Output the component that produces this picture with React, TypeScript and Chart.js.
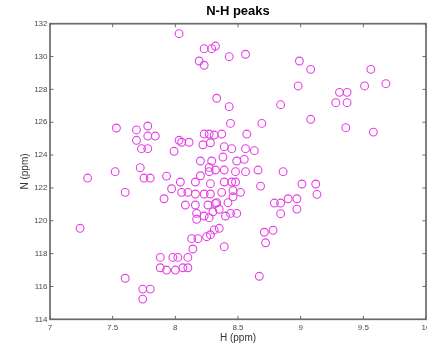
import React, { useEffect, useRef } from "react";
import { Chart, registerables } from "chart.js";

Chart.register(...registerables);

const chartTitle = "N-H peaks";
const xAxisTitle = "H (ppm)";
const yAxisTitle = "N (ppm)";

const hValues: number[] = [
  8.03, 8.23, 8.29, 8.32, 8.43, 8.56, 8.19, 8.23, 8.99, 9.08,
  8.98, 9.56, 9.51, 9.68, 9.31, 9.37, 9.28, 9.37, 8.33, 8.43,
  8.84, 9.08, 7.53, 7.69, 7.78, 7.78, 7.84, 7.69, 7.73, 7.78,
  7.52, 7.30, 7.72, 7.75, 7.80, 7.60, 7.24, 7.93, 7.99, 8.03,
  8.05, 8.11, 8.04, 7.97, 7.91, 8.05, 8.10, 8.08, 8.16, 8.17,
  8.17, 8.23, 8.27, 8.16, 8.16, 8.23, 8.28, 8.26, 8.32, 8.33,
  8.30, 8.35, 8.40, 8.44, 8.49, 8.42, 8.37, 8.46, 8.46, 8.52,
  8.48, 8.45, 8.39, 8.28, 8.20, 8.27, 8.27, 8.32, 8.39, 8.48,
  8.56, 8.66, 8.86, 8.20, 8.29, 8.38, 8.49, 8.55, 8.39, 8.45,
  8.56, 8.63, 8.22, 8.28, 8.23, 8.27, 8.31, 8.37, 8.57, 8.44,
  8.69, 8.68, 9.01, 9.12, 9.13, 8.79, 8.84, 8.90, 8.97, 8.97,
  8.84, 9.36, 9.58, 8.13, 8.18, 8.25, 8.28, 8.31, 8.35, 8.14,
  8.39, 7.88, 7.98, 8.02, 8.10, 7.88, 7.93, 8.00, 8.06, 8.10,
  7.60, 7.74, 7.80, 7.74, 8.67, 8.71, 8.78, 8.72,
];

const nValues: number[] = [
  131.39, 130.48, 130.48, 130.64, 129.99, 130.14, 129.73, 129.47, 129.73, 129.22,
  128.21, 129.22, 128.21, 128.35, 127.82, 127.82, 127.19, 127.19, 127.46, 126.95,
  127.07, 126.18, 125.65, 125.53, 125.77, 125.16, 125.16, 124.90, 124.39, 124.39,
  122.99, 122.60, 123.23, 122.60, 122.60, 121.73, 119.54, 122.72, 124.23, 124.90,
  124.78, 124.78, 122.36, 121.95, 121.34, 121.73, 121.73, 120.96, 120.96, 120.45,
  120.09, 120.29, 120.19, 122.36, 121.63, 121.63, 121.63, 120.96, 121.06, 121.10,
  120.55, 120.70, 120.29, 120.45, 120.45, 121.10, 121.73, 121.83, 121.46, 121.73,
  122.36, 122.36, 122.36, 122.26, 122.74, 122.99, 123.25, 123.09, 123.09, 122.99,
  122.99, 123.09, 122.99, 123.64, 123.64, 123.88, 123.64, 123.74, 124.51, 124.39,
  124.39, 124.27, 124.63, 124.75, 125.28, 125.28, 125.22, 125.28, 125.28, 125.93,
  125.93, 122.11, 122.24, 122.24, 121.61, 121.08, 121.08, 121.34, 121.34, 120.71,
  120.43, 125.67, 125.40, 118.91, 118.91, 119.03, 119.15, 119.44, 119.54, 118.28,
  118.42, 117.77, 117.77, 117.77, 117.77, 117.14, 117.00, 117.00, 117.14, 117.14,
  116.50, 115.84, 115.84, 115.23, 116.62, 119.30, 119.42, 118.66,
];

const xTicks: number[] = [7, 7.5, 8, 8.5, 9, 9.5, 10];
const yTicks: number[] = [114, 116, 118, 120, 122, 124, 126, 128, 130, 132];

const FONT = "'Liberation Sans', Arial, Helvetica, sans-serif";
const AXIS_COLOR = "#6a6a6a";
const TEXT_COLOR = "#4a4a4a";

const boxPlugin = {
  id: "matlabBox",
  afterDraw(chart: any) {
    const { ctx, chartArea } = chart;
    const { left, right, top, bottom } = chartArea;
    const xs = chart.scales.x;
    const ys = chart.scales.y;
    ctx.save();
    ctx.strokeStyle = AXIS_COLOR;
    ctx.lineWidth = 1.7;
    ctx.strokeRect(left, top, right - left, bottom - top);
    const tl = 3.5;
    ctx.lineWidth = 1;
    ctx.beginPath();
    for (const v of xTicks) {
      const px = xs.getPixelForValue(v);
      ctx.moveTo(px, bottom);
      ctx.lineTo(px, bottom - tl);
      ctx.moveTo(px, top);
      ctx.lineTo(px, top + tl);
    }
    for (const v of yTicks) {
      const py = ys.getPixelForValue(v);
      ctx.moveTo(left, py);
      ctx.lineTo(left + tl, py);
      ctx.moveTo(right, py);
      ctx.lineTo(right - tl, py);
    }
    ctx.stroke();
    ctx.fillStyle = "#000";
    ctx.font = `bold 13px ${FONT}`;
    ctx.textAlign = "center";
    ctx.textBaseline = "middle";
    ctx.fillText(chartTitle, (left + right) / 2, 11.5);
    ctx.restore();
  },
};

export default function App() {
  const canvasRef = useRef<HTMLCanvasElement | null>(null);

  useEffect(() => {
    const canvas = canvasRef.current;
    if (!canvas) return;
    const points = hValues.map((h, i) => ({ x: h, y: nValues[i] }));
    const chart = new Chart(canvas, {
      type: "scatter",
      data: {
        datasets: [
          {
            data: points,
            pointStyle: "circle",
            pointRadius: 3.9,
            pointHoverRadius: 3.9,
            borderWidth: 1.1,
            pointBorderColor: "rgb(228, 64, 228)",
            pointBackgroundColor: "rgba(0,0,0,0)",
            showLine: false,
          },
        ],
      },
      options: {
        responsive: false,
        animation: false,
        devicePixelRatio: 1,
        events: [],
        layout: { padding: { top: 23.7, right: 14, left: 0, bottom: 0 } },
        plugins: {
          legend: { display: false },
          tooltip: { enabled: false },
          title: { display: false },
        },
        scales: {
          x: {
            type: "linear",
            min: 7,
            max: 10,
            afterFit: (s: any) => {
              s.height = 27.7;
            },
            afterBuildTicks: (s: any) => {
              s.ticks = xTicks.map((v) => ({ value: v }));
            },
            grid: { display: false, drawTicks: false },
            border: { display: false },
            ticks: {
              padding: 3.8,
              color: TEXT_COLOR,
              font: { family: FONT, size: 8 },
              maxRotation: 0,
              autoSkip: false,
              callback: (v: any) => String(v),
            },
            title: {
              display: true,
              text: xAxisTitle,
              color: "#333",
              font: { family: FONT, size: 10 },
              padding: { top: 0, bottom: 2.5 },
            },
          },
          y: {
            type: "linear",
            min: 114,
            max: 132,
            afterFit: (s: any) => {
              s.width = 50;
            },
            afterBuildTicks: (s: any) => {
              s.ticks = yTicks.map((v) => ({ value: v }));
            },
            grid: { display: false, drawTicks: false },
            border: { display: false },
            ticks: {
              padding: 2.5,
              color: TEXT_COLOR,
              font: { family: FONT, size: 8 },
              autoSkip: false,
              callback: (v: any) => String(v),
            },
            title: {
              display: true,
              text: yAxisTitle,
              color: "#333",
              font: { family: FONT, size: 10 },
              padding: { top: 19, bottom: 0 },
            },
          },
        },
      },
      plugins: [boxPlugin],
    });
    return () => chart.destroy();
  }, []);

  return (
    <div
      style={{
        position: "absolute",
        left: 0,
        top: 0,
        width: 427,
        height: 347,
        overflow: "hidden",
        background: "#fff",
      }}
    >
      <canvas
        ref={canvasRef}
        width={440}
        height={347}
        style={{ display: "block", width: 440, height: 347 }}
      />
    </div>
  );
}
